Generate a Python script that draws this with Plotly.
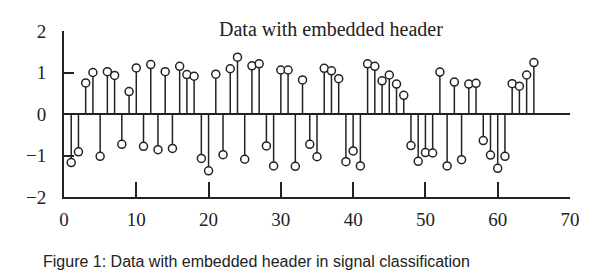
import plotly.graph_objects as go

# Data
sample_index = list(range(1, 66))
signal_values = [
    -1.17, -0.91, 0.75, 1.00, -1.02, 1.02, 0.93, -0.73, 0.54, 1.11,
    -0.78, 1.19, -0.86, 1.02, -0.83, 1.15, 0.95, 0.91, -1.07, -1.37,
    0.96, -0.98, 1.09, 1.37, -1.09, 1.16, 1.21, -0.77, -1.25, 1.06,
    1.06, -1.26, 0.82, -0.73, -1.03, 1.10, 1.04, 0.85, -1.15, -0.89,
    -1.25, 1.21, 1.15, 0.80, 0.94, 0.72, 0.45, -0.76, -1.14, -0.93,
    -0.94, 1.01, -1.25, 0.77, -1.10, 0.72, 0.74, -0.64, -0.99, -1.31,
    -1.02, 0.73, 0.67, 0.94, 1.24,
]
x_ticks = [0, 10, 20, 30, 40, 50, 60, 70]
y_ticks = [-2, -1, 0, 1, 2]
title_text = "Data with embedded header"
caption_text = "Figure 1: Data with embedded header in signal classification"

# stems
stem_x, stem_y = [], []
for xi, yi in zip(sample_index, signal_values):
    stem_x += [xi, xi, None]
    stem_y += [0, yi, None]

fig = go.Figure()
fig.add_trace(go.Scatter(x=stem_x, y=stem_y, mode="lines",
                         line=dict(color="#222", width=1.5),
                         hoverinfo="skip", showlegend=False))
fig.add_trace(go.Scatter(x=sample_index, y=signal_values, mode="markers",
                         marker=dict(symbol="circle", size=8, color="white",
                                     line=dict(color="#222", width=1.5)),
                         showlegend=False))

serif = "Liberation Serif, Times New Roman, serif"
fig.update_layout(
    width=600, height=280,
    margin=dict(l=64, r=30, t=31, b=83),
    paper_bgcolor="white", plot_bgcolor="white",
    font=dict(family=serif, size=19, color="#222"),
    xaxis=dict(range=[0, 70], tickvals=x_ticks, ticks="inside", ticklen=15,
               tickwidth=1.5, tickcolor="#222", showline=True, linecolor="#222",
               linewidth=2, showgrid=False, zeroline=False,
               ticklabelstandoff=4),
    yaxis=dict(range=[-2, 2], tickvals=y_ticks, ticks="inside", ticklen=10,
               tickwidth=1.5, tickcolor="#222", showline=True, linecolor="#222",
               linewidth=2, showgrid=False, zeroline=True, zerolinecolor="#222",
               zerolinewidth=1.5, ticklabelstandoff=12),
    annotations=[
        dict(text=title_text, x=0.528, y=1.012, xref="paper", yref="paper",
             xanchor="center", yanchor="middle", showarrow=False,
             font=dict(family=serif, size=20, color="#222")),
        dict(text=caption_text, x=0.381, y=-0.39, xref="paper", yref="paper",
             xanchor="center", yanchor="middle", showarrow=False,
             font=dict(family="Liberation Sans, Arial, sans-serif",
                       size=16, color="#222")),
    ],
)

fig.write_html("out.html")
